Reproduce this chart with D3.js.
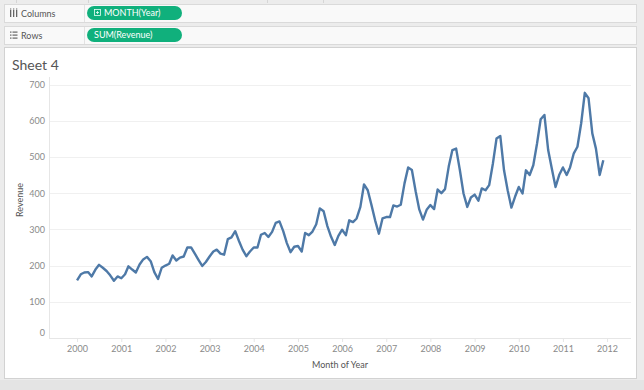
<!DOCTYPE html>
<html>
<head>
<meta charset="utf-8">
<script src="https://cdn.jsdelivr.net/npm/d3@7"></script>
<style>
  body { margin: 0; background: #ececec; }
  svg { display: block; font-family: Lato, "Open Sans", sans-serif; }
</style>
</head>
<body>
<div id="chart"></div>
<script>
// Monthly revenue, Jan..Dec
const years = [2000, 2001, 2002, 2003, 2004, 2005, 2006, 2007, 2008, 2009, 2010, 2011];
const rev2000 = [159, 176, 181, 182, 170, 189, 202, 194, 185, 173, 158, 170];
const rev2001 = [165, 176, 198, 189, 181, 203, 217, 224, 212, 182, 163, 194];
const rev2002 = [200, 205, 228, 214, 222, 225, 250, 250, 233, 216, 199, 210];
const rev2003 = [225, 239, 244, 233, 230, 273, 278, 295, 268, 244, 226, 239];
const rev2004 = [250, 250, 285, 290, 279, 293, 318, 322, 295, 262, 237, 252];
const rev2005 = [254, 239, 290, 284, 294, 314, 358, 350, 309, 280, 257, 282];
const rev2006 = [299, 284, 325, 320, 330, 362, 424, 408, 367, 325, 288, 330];
const rev2007 = [334, 334, 366, 363, 368, 427, 471, 464, 405, 355, 327, 354];
const rev2008 = [367, 356, 410, 400, 411, 474, 519, 523, 463, 399, 362, 388];
const rev2009 = [396, 379, 413, 408, 422, 482, 551, 558, 463, 408, 360, 390];
const rev2010 = [417, 399, 463, 450, 477, 537, 604, 616, 519, 468, 417, 450];
const rev2011 = [471, 450, 471, 510, 528, 593, 677, 662, 565, 523, 450, 491];
const yTicks = [0, 100, 200, 300, 400, 500, 600, 700];

const revenueByYear = [rev2000, rev2001, rev2002, rev2003, rev2004, rev2005,
  rev2006, rev2007, rev2008, rev2009, rev2010, rev2011];

const data = [];
years.forEach((yr, i) => {
  revenueByYear[i].forEach((v, m) => data.push({ date: new Date(yr, m, 1), value: v }));
});

const W = 644, H = 390;
const svg = d3.select('#chart').append('svg')
  .attr('width', W)
  .attr('height', H);

// --- Tableau shelf area ---
svg.append('rect').attr('width', W).attr('height', H).attr('fill', '#ececec');

// little ruler marks along the very top
[16, 88, 267, 323].forEach(x => {
  svg.append('line')
    .attr('x1', x + 0.5).attr('x2', x + 0.5).attr('y1', 0).attr('y2', 3)
    .attr('stroke', '#d6d6d6');
});

const shelves = [
  { label: 'Columns', pill: 'MONTH(Year)', y: 4, plus: true },
  { label: 'Rows', pill: 'SUM(Revenue)', y: 26, plus: false }
];

shelves.forEach(s => {
  const g = svg.append('g').attr('transform', `translate(0,${s.y})`);
  g.append('rect')
    .attr('x', 4.5).attr('y', 0.5).attr('width', 632).attr('height', 18)
    .attr('fill', '#f9f9f9').attr('stroke', '#dadada');
  g.append('line')
    .attr('x1', 84.5).attr('x2', 84.5).attr('y1', 1).attr('y2', 18)
    .attr('stroke', '#e2e2e2');

  // shelf icon
  if (s.plus) {
    [0, 3, 6].forEach(dx => {
      g.append('rect').attr('x', 10 + dx).attr('y', 6).attr('width', 1.3).attr('height', 7)
        .attr('fill', '#666');
    });
    [0, 3, 6].forEach(dx => {
      g.append('rect').attr('x', 10 + dx).attr('y', 4.5).attr('width', 1.3).attr('height', 1)
        .attr('fill', '#666');
    });
  } else {
    [5.5, 8.5, 11.5].forEach(yy => {
      g.append('rect').attr('x', 10).attr('y', yy).attr('width', 1.5).attr('height', 1.2).attr('fill', '#666');
      g.append('rect').attr('x', 12.5).attr('y', yy).attr('width', 5).attr('height', 1.2).attr('fill', '#666');
    });
  }

  g.append('text')
    .attr('x', 21).attr('y', 12.5)
    .attr('font-size', '9px')
    .attr('fill', '#555')
    .text(s.label);

  // green pill
  g.append('rect')
    .attr('x', 87).attr('y', 2).attr('width', 95).attr('height', 14)
    .attr('rx', 7).attr('ry', 7)
    .attr('fill', '#10b07c');

  let tx = 94;
  if (s.plus) {
    g.append('rect')
      .attr('x', 94.5).attr('y', 5.5).attr('width', 6).attr('height', 6)
      .attr('fill', 'none').attr('stroke', '#e8fff6').attr('stroke-width', 0.8);
    g.append('line').attr('x1', 96).attr('x2', 99).attr('y1', 8.5).attr('y2', 8.5)
      .attr('stroke', '#e8fff6').attr('stroke-width', 0.8);
    g.append('line').attr('x1', 97.5).attr('x2', 97.5).attr('y1', 7).attr('y2', 10)
      .attr('stroke', '#e8fff6').attr('stroke-width', 0.8);
    tx = 104;
  }
  g.append('text')
    .attr('x', tx).attr('y', 12.3)
    .attr('font-size', '9px')
    .attr('fill', 'white')
    .text(s.pill);
});

// --- Sheet panel ---
svg.append('rect')
  .attr('x', 4.5).attr('y', 47.5).attr('width', 632).attr('height', 331)
  .attr('fill', 'white').attr('stroke', '#d2d2d2');

// bottom status strip
svg.append('rect').attr('x', 0).attr('y', 380).attr('width', W).attr('height', 10).attr('fill', '#e4e4e4');

svg.append('text')
  .attr('x', 12).attr('y', 70)
  .attr('font-size', '14px')
  .attr('fill', '#555')
  .text('Sheet 4');

// --- Chart ---
const x = d3.scaleTime()
  .domain([new Date(1999, 4, 14), new Date(2012, 6, 17)])
  .range([49, 631]);

const y = d3.scaleLinear()
  .domain([0, 700])
  .range([338, 84.5]);

// gridlines
svg.append('g')
  .selectAll('line')
  .data(yTicks.filter(d => d > 0))
  .join('line')
  .attr('x1', 49).attr('x2', 631)
  .attr('y1', d => Math.round(y(d)) + 0.5)
  .attr('y2', d => Math.round(y(d)) + 0.5)
  .attr('stroke', '#f0f0f0');

// axis lines
svg.append('line')
  .attr('x1', 49.5).attr('x2', 49.5).attr('y1', 77).attr('y2', 339)
  .attr('stroke', '#e6e6e6');
svg.append('line')
  .attr('x1', 49).attr('x2', 631).attr('y1', 338.5).attr('y2', 338.5)
  .attr('stroke', '#e6e6e6');

// Y axis
const yAxis = svg.append('g')
  .attr('transform', 'translate(49,0)')
  .call(d3.axisLeft(y).tickValues(yTicks).tickSize(0).tickPadding(4));
yAxis.select('.domain').remove();
yAxis.selectAll('text')
  .attr('font-family', 'Lato, "Open Sans", sans-serif')
  .attr('font-size', '9px')
  .attr('fill', '#8a8a8a')
  .attr('dy', d => d === 0 ? '-0.25em' : '0.32em');

// X axis
const xAxis = svg.append('g')
  .attr('transform', 'translate(0,339)')
  .call(d3.axisBottom(x).ticks(d3.timeYear.every(1)).tickFormat(d3.timeFormat('%Y'))
    .tickSize(3).tickPadding(4));
xAxis.select('.domain').remove();
xAxis.selectAll('line').attr('stroke', '#e6e6e6');
xAxis.selectAll('text')
  .attr('font-family', 'Lato, "Open Sans", sans-serif')
  .attr('font-size', '9px')
  .attr('fill', '#8a8a8a');

// axis titles
svg.append('text')
  .attr('text-anchor', 'middle')
  .attr('x', 340)
  .attr('y', 368)
  .attr('font-size', '9px')
  .attr('fill', '#555')
  .text('Month of Year');

svg.append('text')
  .attr('text-anchor', 'middle')
  .attr('transform', 'translate(23,200) rotate(-90)')
  .attr('font-size', '9px')
  .attr('fill', '#555')
  .text('Revenue');

// revenue line
const line = d3.line()
  .x(d => x(d.date))
  .y(d => y(d.value));

svg.append('path')
  .datum(data)
  .attr('d', line)
  .attr('fill', 'none')
  .attr('stroke', '#4e79a7')
  .attr('stroke-width', 2.4)
  .attr('stroke-linejoin', 'round');
</script>
</body>
</html>
